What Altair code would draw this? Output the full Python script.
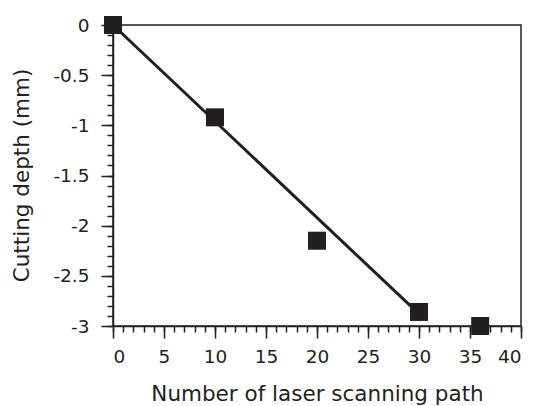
import altair as alt
import pandas as pd

# measured points
paths = [0, 10, 20, 30, 36]
depth = [0, -0.92, -2.15, -2.86, -3.0]

# fitted line endpoints
line_x = [0, 30]
line_y = [0, -2.88]

x_major = [0, 5, 10, 15, 20, 25, 30, 35, 40]
x_minor = list(range(0, 41))
y_major = [0, -0.5, -1, -1.5, -2, -2.5, -3]
y_minor = [round(-0.1 * i, 1) for i in range(0, 31)]

FONT = "DejaVu Sans"
INK = "#231f20"

pts = pd.DataFrame({"x": paths, "y": depth})
ln = pd.DataFrame({"x": line_x, "y": line_y})

x_axis = alt.Axis(
    orient="bottom",
    values=x_major,
    title="Number of laser scanning path",
    grid=False,
    domainColor=INK,
    domainWidth=1.5,
    tickColor=INK,
    tickWidth=1.5,
    tickSize=12,
    labelOverlap=False,
    labelFont=FONT,
    labelFontSize=18.5,
    labelColor=INK,
    labelBaseline="alphabetic",
    labelPadding=24,
    labelFontWeight="normal",
    titleFont=FONT,
    titleFontSize=21.5,
    titleFontWeight="normal",
    titleColor=INK,
    titleBaseline="alphabetic",
    titleY=74,
    titleX=204,
)

y_axis = alt.Axis(
    orient="left",
    values=y_major,
    title="Cutting depth (mm)",
    grid=False,
    domainColor=INK,
    domainWidth=1.5,
    tickColor=INK,
    tickWidth=1.5,
    tickSize=12,
    labelExpr="datum.value < 0 ? '-' + format(-datum.value, '') : '0'",
    labelOverlap=False,
    labelFont=FONT,
    labelFontSize=18.5,
    labelColor=INK,
    labelPadding=12,
    labelFontWeight="normal",
    titleFont=FONT,
    titleFontSize=21.5,
    titleFontWeight="normal",
    titleColor=INK,
    titleBaseline="alphabetic",
    titleAngle=270,
    titleX=-85,
    titleY=150,
)

x_axis_minor = alt.Axis(
    orient="bottom", values=x_minor, grid=False, domain=False, labels=False,
    title=None, tickColor=INK, tickWidth=1.5, tickSize=6,
)
y_axis_minor = alt.Axis(
    orient="left", values=y_minor, grid=False, domain=False, labels=False,
    title=None, tickColor=INK, tickWidth=1.5, tickSize=6,
)

xs = alt.Scale(domain=[0, 40], nice=False, zero=False)
ys = alt.Scale(domain=[-3, 0], nice=False, zero=False)

line = alt.Chart(ln).mark_line(color=INK, strokeWidth=3).encode(
    x=alt.X("x:Q", scale=xs, axis=x_axis),
    y=alt.Y("y:Q", scale=ys, axis=y_axis),
)

points = alt.Chart(pts).mark_point(
    shape="square", filled=True, size=324, color=INK, opacity=1
).encode(
    x=alt.X("x:Q", scale=xs, axis=x_axis_minor),
    y=alt.Y("y:Q", scale=ys, axis=y_axis_minor),
)

chart = (line + points).resolve_axis(x="independent", y="independent").properties(
    width=408,
    height=301,
    autosize=alt.AutoSizeParams(type="none"),
    padding={"left": 113, "top": 25, "right": 12, "bottom": 80},
    background="white",
).configure_view(stroke=INK, strokeWidth=1.5)

chart.save("out.html", embed_options={"renderer": "svg", "actions": False})
